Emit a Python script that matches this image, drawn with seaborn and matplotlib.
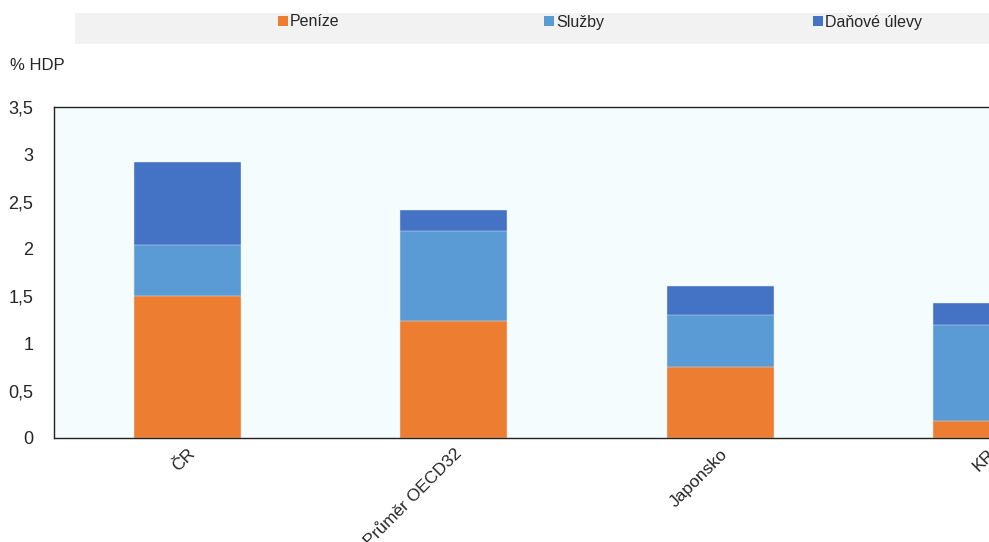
import matplotlib
matplotlib.use("Agg")
import matplotlib.pyplot as plt
from matplotlib.patches import Patch, Rectangle
from matplotlib.ticker import FuncFormatter, MultipleLocator, FixedLocator
import pandas as pd
import seaborn as sns

# data (% HDP)
zeme = ["ČR", "Průměr OECD32", "Japonsko", "KR"]
penize = [1.50, 1.24, 0.75, 0.18]
sluzby = [0.54, 0.95, 0.55, 1.02]
danove_ulevy = [0.88, 0.22, 0.31, 0.23]
nazvy = ["Peníze", "Služby", "Daňové úlevy"]
barvy = ["#ED7D31", "#5B9BD5", "#4472C4"]

df = pd.DataFrame({"zeme": zeme, "penize": penize, "sluzby": sluzby, "dane": danove_ulevy})
df["do_sluzeb"] = df["penize"] + df["sluzby"]
df["celkem"] = df["do_sluzeb"] + df["dane"]

sns.set_style("white")
plt.rcParams["font.family"] = ["Liberation Sans", "DejaVu Sans"]
plt.rcParams["font.size"] = 11.5

fig = plt.figure(figsize=(9.89, 5.42), dpi=100)
# axes runs off the right edge like in the reference (last bar is cut)
ax = fig.add_axes([54 / 989, 1 - 438 / 542, 1066 / 989, 331 / 542])
ax.set_facecolor("#F5FCFE")

# stacked bars: draw cumulative totals from the top layer down
for sloupec, barva in zip(["celkem", "do_sluzeb", "penize"], barvy[::-1]):
    sns.barplot(data=df, x="zeme", y=sloupec, order=zeme, color=barva, width=0.4,
                saturation=1, edgecolor="#EAF4FB", linewidth=0.3, ax=ax)

ax.set_xlim(-0.5, len(zeme) - 0.5)
ax.set_ylim(0, 3.5)
ax.yaxis.set_major_locator(MultipleLocator(0.5))
ax.yaxis.set_major_formatter(FuncFormatter(lambda v, p: f"{v:g}".replace(".", ",")))
ax.set_xlabel("")
ax.set_ylabel("")

for s in ax.spines.values():
    s.set_color("#222222")
    s.set_linewidth(1.0)

ax.tick_params(axis="y", direction="in", length=5, width=0.8, color="#333333", pad=15, labelsize=13)
ax.tick_params(axis="x", which="major", length=0, pad=6, labelsize=12.5)
ax.xaxis.set_minor_locator(FixedLocator([i + 0.5 for i in range(len(zeme) - 1)]))
ax.tick_params(axis="x", which="minor", direction="in", length=6, width=0.8, color="#333333")
for lab in ax.get_xticklabels():
    lab.set_rotation(45)
    lab.set_ha("right")
    lab.set_rotation_mode("anchor")

fig.text(10 / 989, 1 - 65 / 542, "% HDP", fontsize=12, va="center", ha="left")

# grey legend band on top
fig.patches.append(Rectangle((75 / 989, 1 - 44 / 542), 1.2, 31 / 542,
                             transform=fig.transFigure, facecolor="#F2F2F2",
                             edgecolor="none", zorder=0))
for nazev, barva, x in zip(nazvy, barvy, [278, 544, 813]):
    fig.legend(handles=[Patch(facecolor=barva, edgecolor="none")], labels=[nazev],
               loc="center left", bbox_to_anchor=(x / 989, 1 - 22 / 542),
               frameon=False, handlelength=0.6, handleheight=0.6,
               handletextpad=0.15, borderpad=0, borderaxespad=0, fontsize=11.5)

fig.savefig("out.png", dpi=100)
